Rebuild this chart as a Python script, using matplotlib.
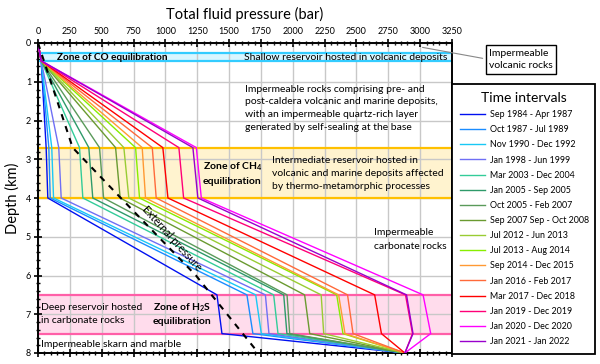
import matplotlib
matplotlib.use("Agg")
import matplotlib.pyplot as plt

plt.rcParams["font.family"] = ["Lato", "DejaVu Sans"]
plt.rcParams["mathtext.fontset"] = "custom"
plt.rcParams["mathtext.rm"] = "Lato"
plt.rcParams["mathtext.bf"] = "Lato:bold"

# time intervals and line colours
labels = ["Sep 1984 - Apr 1987", "Oct 1987 - Jul 1989", "Nov 1990 - Dec 1992",
          "Jan 1998 - Jun 1999", "Mar 2003 - Dec 2004", "Jan 2005 - Sep 2005",
          "Oct 2005 - Feb 2007", "Sep 2007 Sep - Oct 2008", "Jul 2012 - Jun 2013",
          "Jul 2013 - Aug 2014", "Sep 2014 - Dec 2015", "Jan 2016 - Feb 2017",
          "Mar 2017 - Dec 2018", "Jan 2019 - Dec 2019", "Jan 2020 - Dec 2020",
          "Jan 2021 - Jan 2022"]
colors = ["#0010f0", "#1a8cff", "#19c8f5", "#6f6ff5", "#33cc99", "#2e9a6a",
          "#5a9a5a", "#6a9a30", "#99cc33", "#88ee00", "#ff9933", "#ff6a3a",
          "#ff0000", "#ff0077", "#ff00ff", "#9900cc"]

# pressure profiles (bar) at the knot depths (km)
top_depth = [0.0, 0.46]
top_p = [0, 25]
p_27 = [64, 85, 108, 163, 326, 399, 483, 609, 674, 766, 818, 897, 980, 1106, 1243, 1216]
p_40 = [77, 96, 122, 182, 352, 430, 515, 645, 713, 797, 844, 928, 1020, 1143, 1282, 1255]
p_65 = [1405, 1640, 1709, 1785, 1850, 1929, 1955, 2093, 2223, 2345, 2360, 2430, 2643, 2885, 3023, 2893]
p_75 = [1444, 1687, 1753, 1813, 1884, 1954, 1976, 2133, 2243, 2394, 2410, 2473, 2696, 2940, 3083, 2944]
bottom_p = 2880
knot_depth = [2.7, 4.0, 6.5, 7.5, 8.0]

# external pressure
ext_depth = [0, 2.7, 4.0, 6.0, 8.0]
ext_p = [0, 272, 650, 1240, 1730]

fig = plt.figure(figsize=(6, 3.64), dpi=100)
ax = fig.add_axes([38 / 600, 1 - 353 / 364, 414 / 600, 310 / 364])

# zones
bands = [(0.27, 0.46, "#d9f6ff", "#33ccff"),
         (2.7, 4.0, "#fff3cf", "#ffc000"),
         (6.5, 7.5, "#ffdcec", "#ff5fa8")]
for y0, y1, fc, ec in bands:
    ax.axhspan(y0, y1, facecolor=fc, edgecolor="none", zorder=0.5)
    ax.axhline(y0, color=ec, lw=1.6, zorder=1.8)
    ax.axhline(y1, color=ec, lw=1.6, zorder=1.8)

for i in range(len(labels)):
    xs = top_p + [p_27[i], p_40[i], p_65[i], p_75[i], bottom_p]
    ys = top_depth + knot_depth
    ax.plot(xs, ys, color=colors[i], lw=1.0, label=labels[i], zorder=3)

ax.plot(ext_p, ext_depth, color="black", lw=1.5, ls=(0, (3, 3)), zorder=4)

ax.set_xlim(0, 3250)
ax.set_ylim(8, 0)
ax.set_xticks(range(0, 3251, 250))
ax.set_xticks(range(0, 3251, 50), minor=True)
ax.set_yticks(range(0, 9))
ax.set_yticks([i * 0.2 for i in range(41)], minor=True)
ax.xaxis.set_label_position("top")
ax.tick_params(axis="x", which="both", top=True, bottom=True, labeltop=True,
               labelbottom=False, direction="inout")
ax.tick_params(axis="y", which="both", direction="inout", right=False)
ax.tick_params(which="major", length=6, width=1.2, labelsize=6.5, pad=2)
ax.tick_params(which="minor", length=3.5, width=1.0)
ax.grid(True, which="major", color="#c8c8c8", lw=1.0)
for s in ax.spines.values():
    s.set_linewidth(1.4)
ax.set_xlabel("Total fluid pressure (bar)", fontsize=10.5, labelpad=6)
ax.set_ylabel("Depth (km)", fontsize=10.5, labelpad=4)

fs = 7.5
ax.text(153, 0.365, "Zone of CO equilibration", fontsize=7.2, weight="bold", va="center")
ax.text(3215, 0.365, "Shallow reservoir hosted in volcanic deposits", fontsize=fs,
        va="center", ha="right")
ax.text(1622, 1.68, "Impermeable rocks comprising pre- and\npost-caldera volcanic and marine deposits,\n"
        "with an impermeable quartz-rich layer\ngenerated by self-sealing at the base",
        fontsize=fs, va="center", linespacing=1.53)
ax.text(1292, 3.36, "Zone of CH$_\\mathbf{4}$\nequilibration", fontsize=7.5, weight="bold",
        va="center", linespacing=1.6)
ax.text(1834, 3.36, "Intermediate reservoir hosted in\nvolcanic and marine deposits affected\n"
        "by thermo-metamorphic processes", fontsize=fs, va="center", linespacing=1.58)
ax.text(2635, 5.07, "Impermeable\ncarbonate rocks", fontsize=fs, va="center", linespacing=1.8)
ax.text(20, 7.0, "Deep reservoir hosted\nin carbonate rocks", fontsize=fs, va="center",
        linespacing=1.58)
ax.text(900, 6.98, "Zone of H$_\\mathbf{2}$S\nequilibration", fontsize=7.5, weight="bold",
        va="center", linespacing=1.35)
ax.text(27, 7.77, "Impermeable skarn and marble", fontsize=fs, va="center")
ax.text(1050, 5.05, "External pressure", fontsize=7.8, rotation=-48, ha="center",
        va="center", rotation_mode="anchor")

ax.annotate("Impermeable\nvolcanic rocks", xy=(2997, 0.1), xycoords="data",
            xytext=(489 / 600, 1 - 59.5 / 364), textcoords="figure fraction",
            fontsize=7.5, ha="left", va="center", annotation_clip=False, linespacing=1.55,
            bbox=dict(boxstyle="square,pad=0.3", fc="white", ec="black", lw=1.0),
            arrowprops=dict(arrowstyle="-", color="#888888", lw=0.8, relpos=(0, 0.5)))

leg = fig.legend(loc="upper left", bbox_to_anchor=(452 / 600, 1 - 84 / 364 - 0.1, 143 / 600, 0.1),
                 mode="expand", fontsize=6.4, title="Time intervals", title_fontsize=10,
                 frameon=True, fancybox=False, edgecolor="black", framealpha=1,
                 handlelength=2.8, handletextpad=0.55, labelspacing=0.69,
                 borderpad=0.9, borderaxespad=0)
leg.get_frame().set_linewidth(1.3)

fig.savefig("out.png", dpi=100)
